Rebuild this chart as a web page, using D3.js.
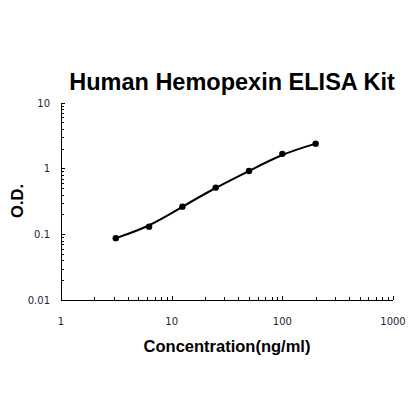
<!DOCTYPE html>
<html>
<head>
<meta charset="utf-8">
<script src="https://cdn.jsdelivr.net/npm/d3@7"></script>
<style>
body { margin: 0; background: #fff; }
svg { display: block; }
</style>
</head>
<body>
<svg id="chart" width="420" height="420"></svg>
<script>
"use strict";

// standard curve readings
var concentrations = [3.125, 6.25, 12.5, 25, 50, 100, 200];
var odValues = [0.087, 0.13, 0.262, 0.51, 0.91, 1.66, 2.37];
var xTickValues = [1, 10, 100, 1000];
var yTickValues = [0.01, 0.1, 1, 10];
var xTickLabels = ["1", "10", "100", "1000"];
var yTickLabels = ["0.01", "0.1", "1", "10"];

var plotLeft = 61, plotRight = 393, plotTop = 102.5, plotBottom = 300;

var svg = d3.select("#chart");

var x = d3.scaleLog().domain([1, 1000]).range([plotLeft, plotRight]);
var y = d3.scaleLog().domain([0.01, 10]).range([plotBottom, plotTop]);

function minorTicks(domain) {
	var out = [];
	for (var d = domain[0]; d < domain[1]; d *= 10) {
		for (var k = 2; k <= 9; k++) { out.push(d * k); }
	}
	return out;
}

var axes = svg.append("g")
	.attr("stroke", "#000")
	.attr("stroke-width", 1)
	.attr("shape-rendering", "crispEdges");

// axis lines
axes.append("line")
	.attr("x1", plotLeft).attr("x2", plotRight)
	.attr("y1", plotBottom).attr("y2", plotBottom);
axes.append("line")
	.attr("x1", plotLeft).attr("x2", plotLeft)
	.attr("y1", plotTop).attr("y2", plotBottom);

// x ticks point inward (up)
axes.selectAll(".xmaj").data(xTickValues.slice(1)).enter().append("line")
	.attr("x1", function(d){ return Math.round(x(d)); })
	.attr("x2", function(d){ return Math.round(x(d)); })
	.attr("y1", plotBottom).attr("y2", plotBottom - 4);
axes.selectAll(".xmin").data(minorTicks([1, 1000])).enter().append("line")
	.attr("x1", function(d){ return Math.round(x(d)); })
	.attr("x2", function(d){ return Math.round(x(d)); })
	.attr("y1", plotBottom).attr("y2", plotBottom - 3);

// y ticks point inward (right)
axes.selectAll(".ymaj").data(yTickValues.slice(1)).enter().append("line")
	.attr("y1", function(d){ return Math.round(y(d)); })
	.attr("y2", function(d){ return Math.round(y(d)); })
	.attr("x1", plotLeft).attr("x2", plotLeft + 4);
axes.selectAll(".ymin").data(minorTicks([0.01, 10])).enter().append("line")
	.attr("y1", function(d){ return Math.round(y(d)); })
	.attr("y2", function(d){ return Math.round(y(d)); })
	.attr("x1", plotLeft).attr("x2", plotLeft + 3);

// tick labels
svg.selectAll(".xlab").data(xTickValues).enter().append("text")
	.attr("x", function(d){ return x(d); })
	.attr("y", 325)
	.attr("text-anchor", "middle")
	.attr("font-family", "DejaVu Sans, sans-serif")
	.attr("font-size", 10)
	.attr("fill", "#2a1a3a")
	.text(function(d, i){ return xTickLabels[i]; });

svg.selectAll(".ylab").data(yTickValues).enter().append("text")
	.attr("x", 50)
	.attr("y", function(d){ return y(d) + 4; })
	.attr("text-anchor", "end")
	.attr("font-family", "DejaVu Sans, sans-serif")
	.attr("font-size", 10)
	.attr("fill", "#2a1a3a")
	.text(function(d, i){ return yTickLabels[i]; });

// fitted curve, smoothed in log space
var pts = concentrations.map(function(c, i){ return [x(c), y(odValues[i])]; });
svg.append("path")
	.attr("d", d3.line().curve(d3.curveBasis)(pts))
	.attr("fill", "none")
	.attr("stroke", "#000")
	.attr("stroke-width", 2);

svg.selectAll(".pt").data(pts).enter().append("circle")
	.attr("cx", function(d){ return d[0]; })
	.attr("cy", function(d){ return d[1]; })
	.attr("r", 3.2)
	.attr("fill", "#000");

// titles
svg.append("text")
	.attr("x", 232).attr("y", 90)
	.attr("text-anchor", "middle")
	.attr("font-family", "Liberation Sans, Arial, sans-serif")
	.attr("font-weight", "bold")
	.attr("font-size", 23.5)
	.text("Human Hemopexin ELISA Kit");

svg.append("text")
	.attr("x", 227).attr("y", 352)
	.attr("text-anchor", "middle")
	.attr("font-family", "Liberation Sans, Arial, sans-serif")
	.attr("font-weight", "bold")
	.attr("font-size", 16.5)
	.text("Concentration(ng/ml)");

svg.append("text")
	.attr("transform", "translate(22.5,201) rotate(-90)")
	.attr("text-anchor", "middle")
	.attr("font-family", "Liberation Sans, Arial, sans-serif")
	.attr("font-weight", "bold")
	.attr("font-size", 16.5)
	.text("O.D.");
</script>
</body>
</html>
